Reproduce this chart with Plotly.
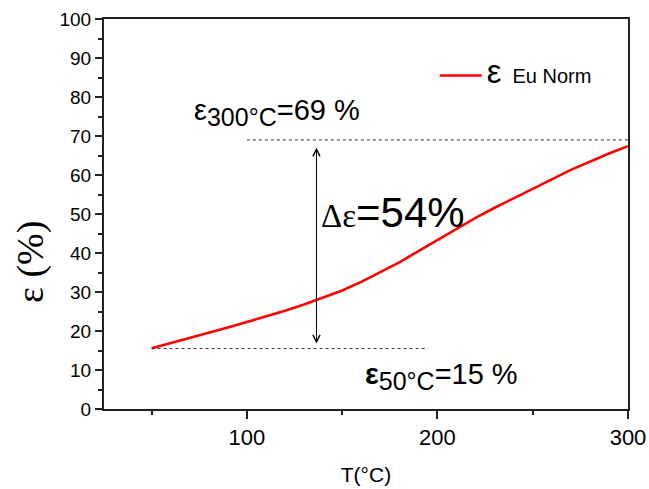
import plotly.graph_objects as go

# Data
temperature = [50, 60, 70, 80, 90, 100, 110, 120, 130, 140, 150, 160, 170, 180, 190,
               200, 210, 220, 230, 240, 250, 260, 270, 280, 290, 300]
epsilon = [15.6, 16.9, 18.2, 19.5, 20.9, 22.3, 23.7, 25.2, 26.8, 28.5, 30.4, 32.6, 35.0,
           37.6, 40.5, 43.4, 46.3, 49.0, 51.6, 54.1, 56.5, 58.9, 61.3, 63.5, 65.5, 67.4]

eps_low_T, eps_low = 50, 15.5
eps_high_T, eps_high = 300, 69
low_line_end = 195
high_line_start = 100
arrow_T = 136.5
arrow_bottom, arrow_top = 16.4, 67.0

x_ticks = [100, 200, 300]
y_ticks = [0, 10, 20, 30, 40, 50, 60, 70, 80, 90, 100]

fig = go.Figure()
fig.add_trace(go.Scatter(
    x=temperature, y=epsilon, mode="lines",
    line=dict(color="#ff0000", width=2.6),
    name="<span style='font-size:33px'>ε</span>  <span style='font-size:20px'>Eu Norm</span>",
))

dash = dict(color="#333333", width=1, dash="3px,3px")
fig.add_shape(type="line", x0=eps_low_T, x1=low_line_end, y0=eps_low, y1=eps_low,
              xref="x", yref="y", line=dash)
fig.add_shape(type="line", x0=high_line_start, x1=eps_high_T, y0=eps_high, y1=eps_high,
              xref="x", yref="y", line=dash)

fig.add_annotation(x=arrow_T, y=arrow_top, ax=arrow_T, ay=arrow_bottom,
                   xref="x", yref="y", axref="x", ayref="y", text="",
                   showarrow=True, arrowhead=5, startarrowhead=5, arrowside="end+start",
                   arrowwidth=1, arrowsize=1.4, startarrowsize=1.4,
                   arrowcolor="black", standoff=0, startstandoff=0)

fig.add_annotation(x=71.3, y=76.0, xref="x", yref="y", xanchor="left", yanchor="middle",
                   showarrow=False,
                   text="ε<sub><span style='font-size:25px'>300°C</span></sub>=69 %",
                   font=dict(family="Liberation Sans, Arial", size=29, color="black"))
fig.add_annotation(x=138.0, y=50.5, xref="x", yref="y", xanchor="left", yanchor="middle",
                   showarrow=False,
                   text="<span style='font-family:Liberation Serif;font-size:33px'>Δε</span>=54%",
                   font=dict(family="Liberation Sans, Arial", size=42, color="black"))
fig.add_annotation(x=161, y=8.3, xref="x", yref="y", xanchor="left", yanchor="middle",
                   showarrow=False,
                   text="<b>ε</b><sub><span style='font-size:25px'>50°C</span></sub>=15 %",
                   font=dict(family="Liberation Sans, Arial", size=29, color="black"))

# y-axis title as rotated text (the reference sets it below the axis centre)
title_px_x, title_px_y = 30, 262
fig.add_annotation(x=(title_px_x - 104) / 524, y=(409 - title_px_y) / 390,
                   xref="paper", yref="paper", showarrow=False,
                   text="ε (%)", textangle=-90, xanchor="center", yanchor="middle",
                   font=dict(family="Liberation Serif, Times New Roman", size=38,
                             color="black"))

axis_common = dict(showline=True, linewidth=2, linecolor="#222222", mirror=True,
                   showgrid=False, zeroline=False, ticks="outside", tickcolor="#222222",
                   tickwidth=1.5)

fig.update_xaxes(range=[25, 300], tickvals=x_ticks, ticklen=8,
                 tickfont=dict(family="Liberation Sans, Arial", size=22, color="black"),
                 minor=dict(tick0=0, dtick=50, ticks="outside", ticklen=4, tickwidth=1.5,
                            tickcolor="#222222"),
                 title=dict(text="T(°C)", standoff=18,
                            font=dict(family="Liberation Sans, Arial", size=21, color="black")),
                 **axis_common)
fig.update_yaxes(range=[0, 100], tickvals=y_ticks, ticklen=7,
                 tickfont=dict(family="Liberation Sans, Arial", size=19, color="black"),
                 minor=dict(tick0=0, dtick=5, ticks="outside", ticklen=4, tickwidth=1.5,
                            tickcolor="#222222"),
                 **axis_common)

fig.update_layout(
    width=649, height=489,
    margin=dict(l=104, r=21, t=19, b=80, autoexpand=False),
    plot_bgcolor="white", paper_bgcolor="white",
    showlegend=True,
    legend=dict(x=0.631, y=0.855, xanchor="left", yanchor="middle", itemwidth=42,
                bgcolor="rgba(0,0,0,0)", borderwidth=0,
                font=dict(family="Liberation Sans, Arial", size=20, color="black")),
)

fig.write_html("out.html", config={"displayModeBar": False},
               post_script="document.body.style.margin='0';")
